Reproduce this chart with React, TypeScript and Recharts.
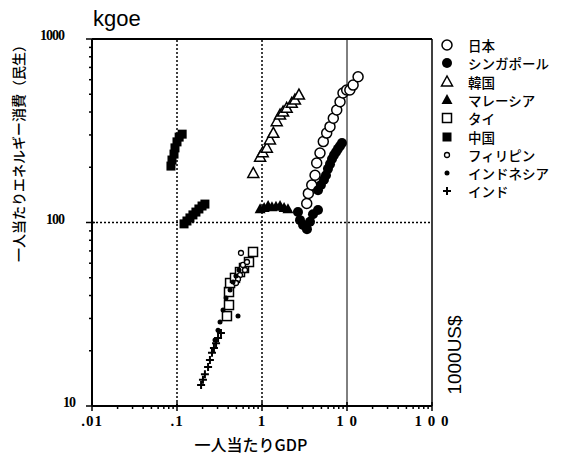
import React from "react";
import { ScatterChart, Scatter, XAxis, YAxis, ReferenceLine } from "recharts";

// 一人当たりGDP (1000US$) と 一人当たりエネルギー消費 (kgoe)
const japanGdp = [3.36, 3.51, 3.85, 4.21, 4.4, 4.81, 5.26, 5.77, 6.31, 6.9, 7.57, 8.28, 8.97, 9.92, 10.8, 11.8, 13.5];
const japanEnergy = [127, 144, 160, 181, 211, 239, 276, 307, 333, 370, 410, 455, 508, 527, 527, 561, 623];

const singaporeGdp = [2.65, 2.8, 3.04, 3.38, 3.67, 3.98, 4.56, 4.56, 4.94, 5.36, 5.66, 5.97, 6.31, 6.66, 7.03, 7.43, 7.83, 8.28, 8.73];
const singaporeEnergy = [114, 103, 97, 92, 101, 111, 117, 150, 160, 171, 181, 196, 208, 222, 233, 242, 252, 261, 271];

const koreaGdp = [0.79, 0.95, 1.02, 1.14, 1.24, 1.36, 1.49, 1.63, 1.77, 1.95, 2.24, 2.44, 2.72];
const koreaEnergy = [185, 227, 240, 254, 282, 306, 354, 385, 400, 419, 446, 465, 495];

const malaysiaGdp = [0.95, 1.06, 1.18, 1.31, 1.46, 1.63, 1.82, 2.02];
const malaysiaEnergy = [118, 120, 123, 121, 122, 123, 120, 118];

const thailandGdp = [0.387, 0.409, 0.409, 0.421, 0.481, 0.551, 0.614, 0.703, 0.784];
const thailandEnergy = [30.9, 35.5, 41.8, 46.8, 49.9, 53.7, 56.5, 60.9, 69.1];

const chinaGdp = [0.0849, 0.0873, 0.0922, 0.0947, 0.1, 0.106, 0.115, 0.121, 0.131, 0.142, 0.154, 0.167, 0.181, 0.197, 0.213];
const chinaEnergy = [203, 219, 236, 255, 275, 292, 303, 98.3, 101.9, 105.9, 110, 114, 118.5, 123, 126];

const philippinesGdp = [0.566, 0.597, 0.631, 0.551, 0.522, 0.494, 0.666];
const philippinesEnergy = [68.2, 58.7, 55.1, 51.7, 49.2, 46.8, 60.9];

const indonesiaGdp = [0.28, 0.304, 0.321, 0.348, 0.377, 0.421, 0.456, 0.494, 0.536, 0.522];
const indonesiaEnergy = [22.9, 25.9, 28.7, 33.4, 38.8, 42.9, 47.4, 51.1, 55.1, 30.9];

const indiaGdp = [0.192, 0.202, 0.213, 0.232, 0.244, 0.258, 0.272, 0.288, 0.304, 0.329];
const indiaEnergy = [13.0, 13.9, 14.9, 16.3, 17.8, 19.5, 20.7, 22.0, 23.5, 25.0];

const xMajor = [0.01, 0.1, 1, 10, 100];
const xLabels = [".01", ".1", "1", "1 0", "1 0 0"];
const yMajor = [10, 100, 1000];
const yLabels = ["10", "100", "1000"];
const yLabelShift = [11, 0, 0];
const minorSteps = [2, 3, 4, 5, 6, 7, 8, 9];

const withMinors = (majors: number[]) =>
  [...majors, ...majors.slice(0, -1).flatMap((d) => minorSteps.map((s) => +(d * s).toPrecision(3)))].sort(
    (a, b) => a - b
  );

const toPoints = (xs: number[], ys: number[]) => xs.map((x, i) => ({ x, y: ys[i] }));

const majorIndex = (list: number[], v: number) => list.findIndex((m) => Math.abs(m - v) / m < 1e-6);

const serif = "'Liberation Serif', 'DejaVu Serif', serif";
const sans = "'Liberation Sans', Arial, sans-serif";
const cjk = "'Noto Sans CJK JP', sans-serif";

const XTick = ({ x, y, payload }: any) => {
  const i = majorIndex(xMajor, payload.value);
  return (
    <g>
      {i >= 0 ? (
        <line x1={x} x2={x} y1={y - 4} y2={y + 5} stroke="#000" strokeWidth={1.5} />
      ) : (
        <line x1={x} x2={x} y1={y} y2={y + 3} stroke="#000" strokeWidth={1.5} />
      )}
      {i >= 0 && (
        <text x={x} y={y + 20} textAnchor="middle" fontFamily={serif} fontWeight="bold" fontSize={15} letterSpacing={1}>
          {xLabels[i]}
        </text>
      )}
    </g>
  );
};

const YTick = ({ x, y, payload }: any) => {
  const i = majorIndex(yMajor, payload.value);
  return (
    <g>
      {i >= 0 ? (
        <line x1={x + 3} x2={x - 6} y1={y} y2={y} stroke="#000" strokeWidth={1.5} />
      ) : (
        <line x1={x} x2={x - 3} y1={y} y2={y} stroke="#000" strokeWidth={1.5} />
      )}
      {i >= 0 && (
        <text
          x={64 + yLabelShift[i]}
          y={y + 1}
          textAnchor="end"
          fontFamily={serif}
          fontWeight="bold"
          fontSize={14}
          letterSpacing={-1}
        >
          {yLabels[i]}
        </text>
      )}
    </g>
  );
};

type Mark = "openCircle" | "dot" | "openTriangle" | "triangle" | "openSquare" | "square" | "smallCircle" | "smallDot" | "plus";

const drawMark = (kind: Mark, cx: number, cy: number) => {
  switch (kind) {
    case "openCircle":
      return <circle cx={cx} cy={cy} r={5} fill="#fff" stroke="#000" strokeWidth={1.5} />;
    case "dot":
      return <circle cx={cx} cy={cy} r={5} fill="#000" />;
    case "openTriangle":
      return (
        <polygon
          points={`${cx},${cy - 6} ${cx - 5.5},${cy + 4} ${cx + 5.5},${cy + 4}`}
          fill="#fff"
          stroke="#000"
          strokeWidth={1.5}
        />
      );
    case "triangle":
      return <polygon points={`${cx},${cy - 6} ${cx - 5.5},${cy + 4} ${cx + 5.5},${cy + 4}`} fill="#000" />;
    case "openSquare":
      return <rect x={cx - 4.5} y={cy - 4.5} width={9} height={9} fill="#fff" stroke="#000" strokeWidth={1.5} />;
    case "square":
      return <rect x={cx - 4.5} y={cy - 4.5} width={9} height={9} fill="#000" />;
    case "smallCircle":
      return <circle cx={cx} cy={cy} r={2.5} fill="#fff" stroke="#000" strokeWidth={1.3} />;
    case "smallDot":
      return <circle cx={cx} cy={cy} r={2.5} fill="#000" />;
    case "plus":
      return (
        <path d={`M${cx - 4},${cy}H${cx + 4}M${cx},${cy - 4}V${cy + 4}`} stroke="#000" strokeWidth={2} />
      );
  }
};

const series: { name: string; mark: Mark; gdp: number[]; energy: number[] }[] = [
  { name: "日本", mark: "openCircle", gdp: japanGdp, energy: japanEnergy },
  { name: "シンガポール", mark: "dot", gdp: singaporeGdp, energy: singaporeEnergy },
  { name: "韓国", mark: "openTriangle", gdp: koreaGdp, energy: koreaEnergy },
  { name: "マレーシア", mark: "triangle", gdp: malaysiaGdp, energy: malaysiaEnergy },
  { name: "タイ", mark: "openSquare", gdp: thailandGdp, energy: thailandEnergy },
  { name: "中国", mark: "square", gdp: chinaGdp, energy: chinaEnergy },
  { name: "フィリピン", mark: "smallCircle", gdp: philippinesGdp, energy: philippinesEnergy },
  { name: "インドネシア", mark: "smallDot", gdp: indonesiaGdp, energy: indonesiaEnergy },
  { name: "インド", mark: "plus", gdp: indiaGdp, energy: indiaEnergy },
];

const LegendBox = () => (
  <div style={{ position: "absolute", left: 0, top: 0 }}>
    {series.map((s, i) => (
      <React.Fragment key={s.name}>
        <svg width={20} height={20} style={{ position: "absolute", left: 437, top: 35 + i * 18.3 }}>
          {drawMark(s.mark, 10, 10)}
        </svg>
        <span
          style={{
            position: "absolute",
            left: 468,
            top: 35 + i * 18.3,
            lineHeight: "20px",
            fontFamily: cjk,
            fontSize: 13.5,
            fontWeight: 500,
            whiteSpace: "nowrap",
          }}
        >
          {s.name}
        </span>
      </React.Fragment>
    ))}
  </div>
);

export default function App() {
  return (
    <div style={{ position: "absolute", left: 0, top: 0, width: 567, height: 464, background: "#fff" }}>
      <ScatterChart width={567} height={464} margin={{ top: 39, right: 135, bottom: 28, left: 0 }}>
        <XAxis
          type="number"
          dataKey="x"
          scale="log"
          domain={[0.01, 100]}
          allowDataOverflow
          ticks={withMinors(xMajor)}
          interval={0}
          tick={<XTick />}
          tickLine={false}
          tickSize={0}
          tickMargin={0}
          height={30}
          axisLine={{ stroke: "#000", strokeWidth: 2 }}
        />
        <YAxis
          type="number"
          dataKey="y"
          scale="log"
          domain={[10, 1000]}
          allowDataOverflow
          ticks={withMinors(yMajor)}
          interval={0}
          tick={<YTick />}
          tickLine={false}
          tickSize={0}
          tickMargin={0}
          width={92}
          axisLine={{ stroke: "#000", strokeWidth: 2 }}
        />
        <ReferenceLine x={0.1} stroke="#000" strokeWidth={1.5} strokeDasharray="2 2" />
        <ReferenceLine x={1} stroke="#000" strokeWidth={1.5} strokeDasharray="2 2" />
        <ReferenceLine x={10} stroke="#000" strokeWidth={1} />
        <ReferenceLine y={100} stroke="#000" strokeWidth={1.5} strokeDasharray="2 2" />
        <ReferenceLine y={1000} stroke="#000" strokeWidth={2} />
        <ReferenceLine x={100} stroke="#000" strokeWidth={1.5} />
        {series.map((s) => (
          <Scatter
            key={s.name}
            name={s.name}
            data={toPoints(s.gdp, s.energy)}
            isAnimationActive={false}
            shape={(p: any) => drawMark(s.mark, p.cx, p.cy)}
          />
        ))}
      </ScatterChart>
      <div style={{ position: "absolute", left: 93, top: 6, fontFamily: sans, fontSize: 22 }}>kgoe</div>
      <div
        style={{
          position: "absolute",
          left: 18,
          top: 150,
          transform: "translate(-50%, -50%) rotate(-90deg)",
          fontFamily: cjk,
          fontSize: 14,
          fontWeight: 500,
          whiteSpace: "nowrap",
        }}
      >
        一人当たりエネルギー消費（民生）
      </div>
      <div
        style={{
          position: "absolute",
          left: 455,
          top: 355,
          transform: "translate(-50%, -50%) rotate(-90deg)",
          fontFamily: sans,
          fontSize: 19,
          whiteSpace: "nowrap",
        }}
      >
        1000US$
      </div>
      <div
        style={{
          position: "absolute",
          left: 251,
          top: 444,
          transform: "translate(-50%, -50%)",
          fontFamily: cjk,
          fontSize: 16,
          fontWeight: 500,
          whiteSpace: "nowrap",
        }}
      >
        一人当たりGDP
      </div>
      <LegendBox />
    </div>
  );
}
